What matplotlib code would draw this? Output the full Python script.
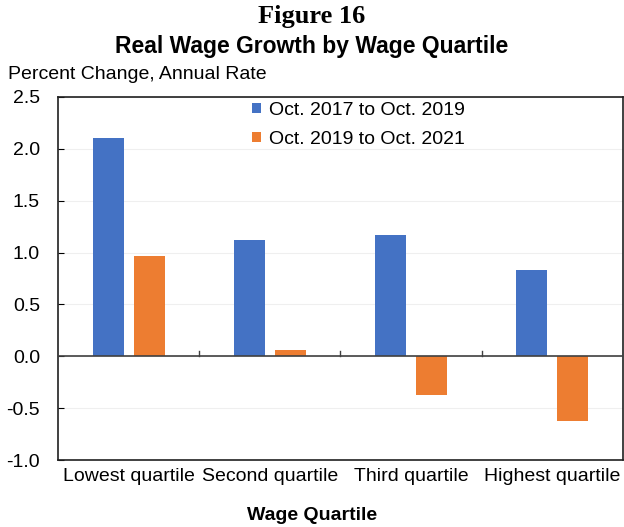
import matplotlib
matplotlib.use("Agg")
import numpy as np
import matplotlib.pyplot as plt

categories = ["Lowest quartile", "Second quartile", "Third quartile", "Highest quartile"]
growth_17_19 = [2.10, 1.12, 1.17, 0.83]
growth_19_21 = [0.97, 0.06, -0.37, -0.62]
series_labels = ["Oct. 2017 to Oct. 2019", "Oct. 2019 to Oct. 2021"]

BLUE = "#4472C4"
ORANGE = "#ED7D31"

plt.rcParams["font.family"] = ["Liberation Sans", "DejaVu Sans"]

fig = plt.figure(figsize=(6.24, 5.27), dpi=100)
ax = fig.add_axes([0.093, 0.127, 0.905, 0.689])

x = np.arange(len(categories))
w = 0.22
ax.bar(x - 0.145, growth_17_19, w, color=BLUE, label=series_labels[0], zorder=3)
ax.bar(x + 0.145, growth_19_21, w, color=ORANGE, label=series_labels[1], zorder=3)

ax.set_xlim(-0.5, len(categories) - 0.5)
ax.set_ylim(-1.0, 2.5)
yt = np.arange(-1.0, 2.51, 0.5)
ax.set_yticks(yt)
ax.set_yticklabels([f"{v:.1f}" for v in yt], fontsize=14)
ax.grid(axis="y", color="#efefef", linewidth=0.8, zorder=0)
ax.tick_params(axis="y", direction="in", length=4, pad=13)
ax.set_xticks(x)
ax.set_xticklabels(categories, fontsize=14)
ax.tick_params(axis="x", length=0, pad=6)

# zero line with category separator ticks
ax.axhline(0, color="#404040", linewidth=1.2, zorder=4)
for b in np.arange(0.5, len(categories) - 0.5, 1.0):
    ax.plot([b, b], [0, 0.055], color="#404040", linewidth=1.0, zorder=4)

for s in ax.spines.values():
    s.set_color("#202020")
    s.set_linewidth(1.2)

ax.legend(loc="upper left", bbox_to_anchor=(252 / 624, 1 - 102 / 527),
          bbox_transform=fig.transFigure, frameon=False, fontsize=14,
          borderpad=0, borderaxespad=0, handlelength=0.45, handleheight=0.45,
          handletextpad=0.4, labelspacing=0.6)

fig.text(0.5, 0.968, "Figure 16", ha="center", va="center", fontsize=19,
         fontweight="bold", family=["Liberation Serif", "DejaVu Serif"])
fig.text(0.5, 0.911, "Real Wage Growth by Wage Quartile", ha="center", va="center",
         fontsize=16.5, fontweight="bold")
fig.text(0.013, 0.858, "Percent Change, Annual Rate", ha="left", va="center",
         fontsize=14)
fig.text(0.5, 0.022, "Wage Quartile", ha="center", va="center", fontsize=14,
         fontweight="bold")

fig.savefig("out.png", dpi=100)
